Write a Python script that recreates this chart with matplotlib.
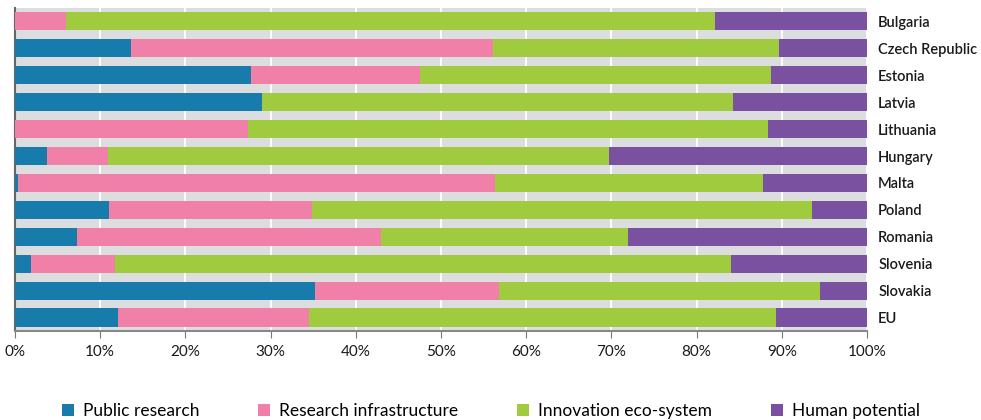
import numpy as np
import matplotlib.pyplot as plt
from matplotlib.ticker import PercentFormatter

plt.rcParams['font.family'] = ['Lato', 'DejaVu Sans']

# Shares of each priority area (%)
countries = ["Bulgaria", "Czech Republic", "Estonia", "Latvia", "Lithuania",
             "Hungary", "Malta", "Poland", "Romania", "Slovenia", "Slovakia", "EU"]
public_research = [0.0, 13.6, 27.7, 29.0, 0.0, 3.8, 0.4, 11.0, 7.3, 1.9, 35.2, 12.1]
research_infra = [6.0, 42.5, 19.8, 0.0, 27.3, 7.1, 55.9, 23.9, 35.7, 9.8, 21.6, 22.4]
innovation = [76.2, 33.6, 41.2, 55.3, 61.1, 58.8, 31.5, 58.6, 28.9, 72.3, 37.7, 54.8]
human_potential = [17.8, 10.3, 11.3, 15.7, 11.6, 30.3, 12.2, 6.5, 28.1, 16.0, 5.5, 10.7]

series = [
    ("Public research", public_research, "#177cab"),
    ("Research infrastructure", research_infra, "#f080a8"),
    ("Innovation eco-system", innovation, "#a0cb3e"),
    ("Human potential", human_potential, "#7a51a0"),
]

fig = plt.figure(figsize=(9.81, 4.2), dpi=100)
ax = fig.add_axes([0.0153, 0.212, 0.8685, 0.769])
ax.set_facecolor("#dcdddf")

y = np.arange(len(countries))
left = np.zeros(len(countries))
for name, vals, col in series:
    vals = np.array(vals)
    ax.barh(y, vals, left=left, height=0.67, color=col, label=name, zorder=3)
    left += vals

ax.set_xlim(0, 100)
ax.set_ylim(len(countries) - 0.5, -0.5)
ax.set_xticks(np.arange(0, 101, 10))
ax.xaxis.set_major_formatter(PercentFormatter(decimals=0))
ax.grid(axis="x", color="white", linewidth=1.3, zorder=1)
ax.set_axisbelow(True)

ax.yaxis.tick_right()
ax.set_yticks(y)
ax.set_yticklabels(countries, fontsize=10.5, fontweight="semibold", color="#1a1a1a")
ax.tick_params(axis="y", length=0, pad=8)
ax.tick_params(axis="x", length=5, color="#777777", labelsize=11, pad=5,
               labelcolor="#1a1a1a")

for s in ["top", "right"]:
    ax.spines[s].set_visible(False)
ax.spines["left"].set_color("#666666")
ax.spines["left"].set_linewidth(1.5)
ax.spines["bottom"].set_color("#888888")
ax.spines["bottom"].set_linewidth(1.5)

handles, labels = ax.get_legend_handles_labels()
fig.legend(handles, labels, loc="lower left", bbox_to_anchor=(0.047, -0.035),
           ncol=4, frameon=False, fontsize=12.5, handlelength=0.7,
           handleheight=0.7, handletextpad=0.5, columnspacing=3.4)

fig.savefig("out.png", dpi=100)
